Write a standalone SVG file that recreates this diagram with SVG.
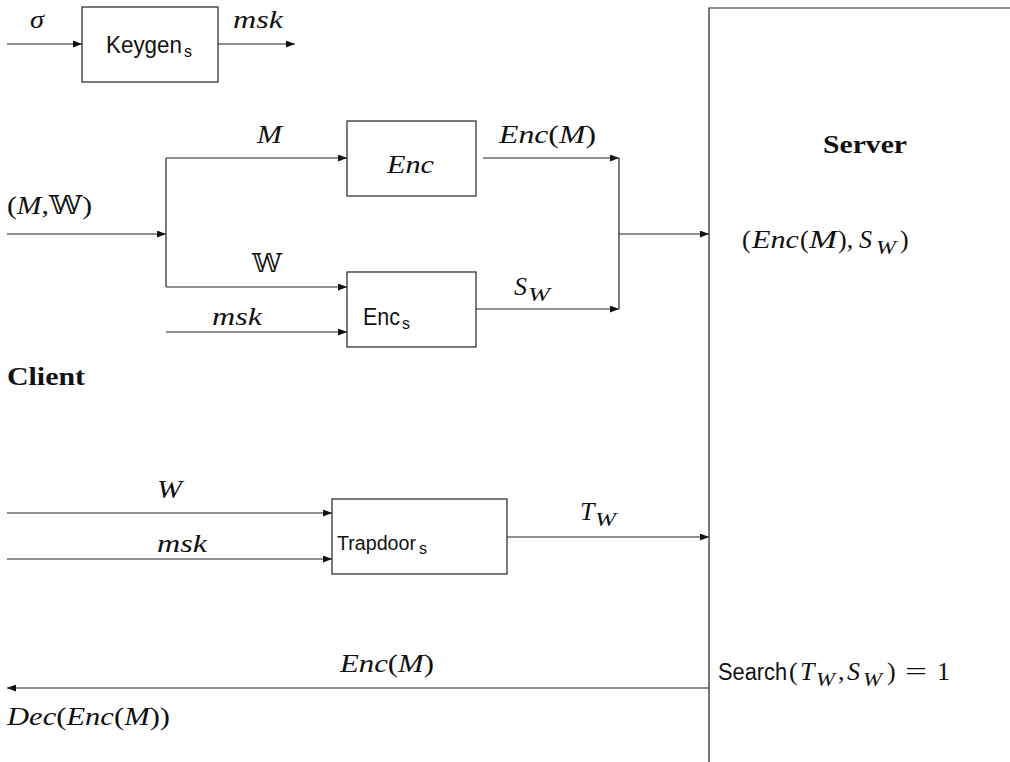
<svg xmlns="http://www.w3.org/2000/svg" width="1010" height="762" viewBox="0 0 1010 762">
<defs>
<marker id="ah" markerWidth="9" markerHeight="7" refX="9" refY="3.5" orient="auto" markerUnits="userSpaceOnUse">
<path d="M0,0 L9,3.5 L0,7 z" fill="#111"/>
</marker>
<style>
.ln{stroke:#222;stroke-width:1.2;fill:none}
.ar{stroke:#222;stroke-width:1.2;fill:none;marker-end:url(#ah)}
.box{stroke:#222;stroke-width:1.2;fill:#fff}
.m{font-family:"Liberation Serif","DejaVu Serif",serif;font-style:italic;font-size:26px;fill:#111}
.up{font-style:normal}
.sub{font-size:18px}
.sf{font-family:"Liberation Sans","DejaVu Sans",sans-serif;font-size:23px;fill:#111}
.sfs{font-size:16px}
.b{font-family:"Liberation Serif","DejaVu Serif",serif;font-weight:bold;font-size:25px;fill:#111}
</style>
</defs>
<rect width="1010" height="762" fill="#fff"/>

<g id="connectors">
<line class="ar" x1="7" y1="44" x2="82" y2="44"/>
<line class="ar" x1="218" y1="44" x2="295" y2="44"/>
<line class="ar" x1="7" y1="234" x2="166" y2="234"/>
<line class="ln" x1="166" y1="158" x2="166" y2="287"/>
<line class="ar" x1="166" y1="158" x2="347" y2="158"/>
<line class="ar" x1="166" y1="287" x2="347" y2="287"/>
<line class="ar" x1="166" y1="332" x2="347" y2="332"/>
<line class="ar" x1="483" y1="158" x2="619" y2="158"/>
<line class="ar" x1="476" y1="309" x2="619" y2="309"/>
<line class="ln" x1="619" y1="158" x2="619" y2="309"/>
<line class="ar" x1="619" y1="234" x2="709" y2="234"/>
<line class="ar" x1="7" y1="513" x2="332" y2="513"/>
<line class="ar" x1="7" y1="559" x2="332" y2="559"/>
<line class="ar" x1="507" y1="537" x2="709" y2="537"/>
<line class="ar" x1="709" y1="688" x2="7" y2="688"/>
</g>

<g id="labels">
<text class="m" x="30" y="28" textLength="14" lengthAdjust="spacingAndGlyphs">σ</text>
<text class="m" x="233" y="28" textLength="50" lengthAdjust="spacingAndGlyphs">msk</text>
<text class="m" x="257" y="143" textLength="25" lengthAdjust="spacingAndGlyphs">M</text>
<text class="m" x="7" y="214" textLength="85" lengthAdjust="spacingAndGlyphs"><tspan class="up">(</tspan>M<tspan class="up">,𝕎)</tspan></text>
<text class="m up" x="252" y="272" textLength="30" lengthAdjust="spacingAndGlyphs">𝕎</text>
<text class="m" x="212" y="325" textLength="50" lengthAdjust="spacingAndGlyphs">msk</text>
<text class="m" x="499" y="143" textLength="97" lengthAdjust="spacingAndGlyphs">Enc<tspan class="up">(</tspan>M<tspan class="up">)</tspan></text>
<text class="m" x="514" y="295">S<tspan class="sub" x="528" y="301" textLength="22" lengthAdjust="spacingAndGlyphs">W</tspan></text>
<text class="m" x="157" y="498" textLength="25" lengthAdjust="spacingAndGlyphs">W</text>
<text class="m" x="157" y="552" textLength="50" lengthAdjust="spacingAndGlyphs">msk</text>
<text class="m" x="580" y="520">T<tspan class="sub" x="595" y="526" textLength="21" lengthAdjust="spacingAndGlyphs">W</tspan></text>
<text class="m" x="340" y="672" textLength="94" lengthAdjust="spacingAndGlyphs">Enc<tspan class="up">(</tspan>M<tspan class="up">)</tspan></text>
<text class="m" x="7" y="725" textLength="163" lengthAdjust="spacingAndGlyphs">Dec<tspan class="up">(</tspan>Enc<tspan class="up">(</tspan>M<tspan class="up">))</tspan></text>
<text class="b" x="7" y="385" textLength="78" lengthAdjust="spacingAndGlyphs">Client</text>
</g>

<g id="keygen">
<rect class="box" x="82" y="7" width="136" height="75"/>
<text class="sf" x="106" y="53"><tspan textLength="76" lengthAdjust="spacingAndGlyphs">Keygen</tspan><tspan class="sfs" x="184" y="57">s</tspan></text>
</g>

<g id="enc">
<rect class="box" x="347" y="121" width="129" height="75"/>
<text class="m" x="387" y="173" textLength="47" lengthAdjust="spacingAndGlyphs">Enc</text>
</g>

<g id="encs">
<rect class="box" x="347" y="272" width="129" height="75"/>
<text class="sf" x="363" y="325"><tspan textLength="37" lengthAdjust="spacingAndGlyphs">Enc</tspan><tspan class="sfs" x="402" y="329">s</tspan></text>
</g>

<g id="trapdoor">
<rect class="box" x="332" y="499" width="175" height="75"/>
<text class="sf" x="337" y="550" style="font-size:20px"><tspan textLength="79" lengthAdjust="spacingAndGlyphs">Trapdoor</tspan><tspan class="sfs" x="419" y="554">s</tspan></text>
</g>

<g id="server">
<polyline class="ln" points="1010,8 709,8 709,762"/>
<text class="b" x="823" y="153" textLength="84" lengthAdjust="spacingAndGlyphs">Server</text>
<text class="m" y="248"><tspan class="up" x="742">(</tspan><tspan x="752" textLength="47" lengthAdjust="spacingAndGlyphs">Enc</tspan><tspan class="up" x="800">(</tspan><tspan x="809" textLength="28" lengthAdjust="spacingAndGlyphs">M</tspan><tspan class="up" x="838">),</tspan><tspan x="859">S</tspan><tspan class="sub" x="876" y="254" textLength="20" lengthAdjust="spacingAndGlyphs">W</tspan><tspan class="up" x="900" y="248">)</tspan></text>
<text class="sf" x="718" y="680"><tspan textLength="69" lengthAdjust="spacingAndGlyphs">Search</tspan><tspan class="m up" x="789">(</tspan><tspan class="m" x="800">T</tspan><tspan class="m sub" x="816" y="686" textLength="19" lengthAdjust="spacingAndGlyphs">W</tspan><tspan class="m up" x="838" y="680">,</tspan><tspan class="m" x="847">S</tspan><tspan class="m sub" x="863" y="686" textLength="19" lengthAdjust="spacingAndGlyphs">W</tspan><tspan class="m up" x="887" y="680">)</tspan><tspan class="m up" x="905" textLength="22" lengthAdjust="spacingAndGlyphs">=</tspan><tspan class="m up" x="937">1</tspan></text>
</g>
</svg>
